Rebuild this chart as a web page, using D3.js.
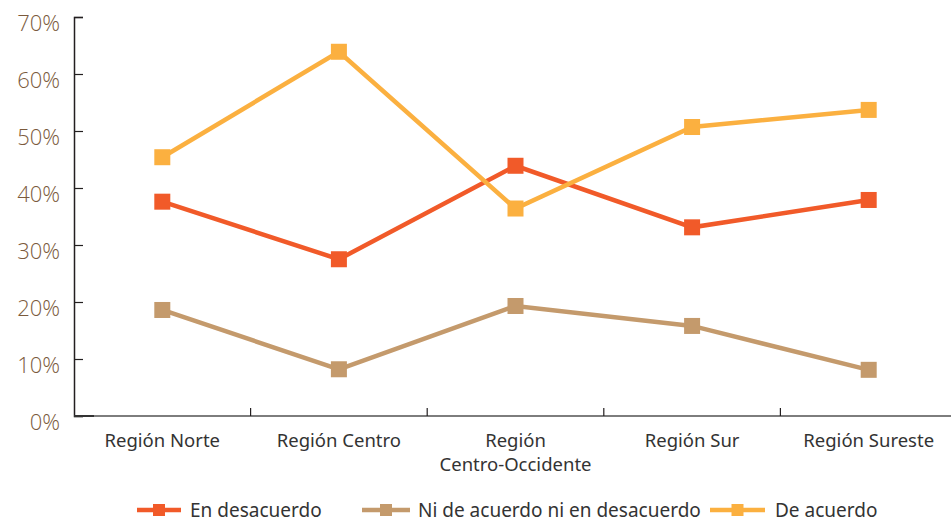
<!DOCTYPE html>
<html>
<head>
<meta charset="utf-8">
<script src="https://cdn.jsdelivr.net/npm/d3@7"></script>
<style>
  html, body { margin: 0; padding: 0; background: #fff; }
  svg { display: block; }
</style>
</head>
<body>
<svg id="chart" width="951" height="521"></svg>
<script>
// Regiones y porcentajes por nivel de acuerdo
const categories = ["Región Norte", "Región Centro", "Región Centro-Occidente", "Región Sur", "Región Sureste"];
const seriesNames = ["En desacuerdo", "Ni de acuerdo ni en desacuerdo", "De acuerdo"];
const enDesacuerdo = [37.6, 27.5, 43.9, 33.1, 37.9];
const niNi = [18.6, 8.2, 19.3, 15.8, 8.1];
const deAcuerdo = [45.4, 63.9, 36.4, 50.7, 53.7];
const yTicks = [0, 10, 20, 30, 40, 50, 60, 70];
const colors = ["#F15A29", "#C49A6C", "#FBB040"];

const series = [
  { name: seriesNames[0], values: enDesacuerdo, color: colors[0] },
  { name: seriesNames[1], values: niNi, color: colors[1] },
  { name: seriesNames[2], values: deAcuerdo, color: colors[2] }
];

const svg = d3.select("#chart");
const plotLeft = 74, plotRight = 957, plotTop = 17, plotBottom = 416;

const x = d3.scaleBand().domain(categories).range([plotLeft, plotRight]);
const y = d3.scaleLinear().domain([0, 70]).range([plotBottom, plotTop]);
const cx = d => x(d) + x.bandwidth() / 2;

// Eje Y
const yAxis = svg.append("g")
  .attr("transform", `translate(${plotLeft},0)`)
  .call(d3.axisRight(y).tickValues(yTicks).tickSize(9).tickFormat(""));
yAxis.select(".domain").attr("stroke", "#231f20").attr("stroke-width", 1.5);
yAxis.selectAll(".tick line").attr("stroke", "#231f20").attr("stroke-width", 1.2);

svg.append("g").selectAll("text")
  .data(yTicks).join("text")
  .attr("x", plotLeft - 14)
  .attr("y", d => y(d) + 6)
  .attr("dy", "0.35em")
  .attr("text-anchor", "end")
  .attr("font-family", "'Open Sans', sans-serif")
  .attr("font-weight", 300)
  .attr("font-size", 22)
  .attr("fill", "#7B5A3C")
  .text(d => d + "%");

// Eje X
svg.append("line")
  .attr("x1", plotLeft).attr("x2", plotRight).attr("y1", plotBottom).attr("y2", plotBottom)
  .attr("stroke", "#7d7d7d").attr("stroke-width", 2);
svg.append("line")
  .attr("x1", plotLeft).attr("x2", plotLeft + 20).attr("y1", plotBottom).attr("y2", plotBottom)
  .attr("stroke", "#333").attr("stroke-width", 2);
svg.append("g").selectAll("line")
  .data(categories.slice(1)).join("line")
  .attr("x1", d => x(d)).attr("x2", d => x(d))
  .attr("y1", plotBottom).attr("y2", plotBottom - 8)
  .attr("stroke", "#231f20").attr("stroke-width", 1.2);

// Etiquetas de categorías (con salto de línea para la región larga)
const labelLines = d => d === "Región Centro-Occidente" ? ["Región", "Centro-Occidente"] : [d];
svg.append("g").selectAll("text")
  .data(categories).join("text")
  .attr("x", d => cx(d))
  .attr("y", plotBottom + 31)
  .attr("text-anchor", "middle")
  .attr("font-family", "'Noto Sans', sans-serif")
  .attr("font-size", 18.5)
  .attr("fill", "#333")
  .each(function(d) {
    const t = d3.select(this);
    labelLines(d).forEach((ln, i) => {
      t.append("tspan").attr("x", cx(d)).attr("dy", i === 0 ? 0 : 24).text(ln);
    });
  });

// Líneas y marcadores
const line = d3.line()
  .x((d, i) => cx(categories[i]))
  .y(d => y(d));

const msz = 16;
series.forEach(s => {
  svg.append("path")
    .datum(s.values)
    .attr("fill", "none")
    .attr("stroke", s.color)
    .attr("stroke-width", 4.5)
    .attr("d", line);
  svg.append("g").selectAll("rect")
    .data(s.values).join("rect")
    .attr("x", (d, i) => cx(categories[i]) - msz / 2)
    .attr("y", d => y(d) - msz / 2)
    .attr("width", msz).attr("height", msz)
    .attr("fill", s.color);
});

// Leyenda
const legendY = 510;
const legendItems = [
  { x0: 137, x1: 181, tx: 190 },
  { x0: 362, x1: 410, tx: 418 },
  { x0: 710, x1: 765, tx: 775 }
];
const lg = svg.append("g");
series.forEach((s, i) => {
  const it = legendItems[i];
  lg.append("line")
    .attr("x1", it.x0).attr("x2", it.x1).attr("y1", legendY).attr("y2", legendY)
    .attr("stroke", s.color).attr("stroke-width", 4.5);
  lg.append("rect")
    .attr("x", (it.x0 + it.x1) / 2 - 6).attr("y", legendY - 6)
    .attr("width", 12).attr("height", 12)
    .attr("fill", s.color);
  lg.append("text")
    .attr("x", it.tx).attr("y", legendY)
    .attr("dy", "0.35em")
    .attr("font-family", "'Noto Sans', sans-serif")
    .attr("font-size", 19)
    .attr("fill", "#333")
    .text(s.name);
});
</script>
</body>
</html>
